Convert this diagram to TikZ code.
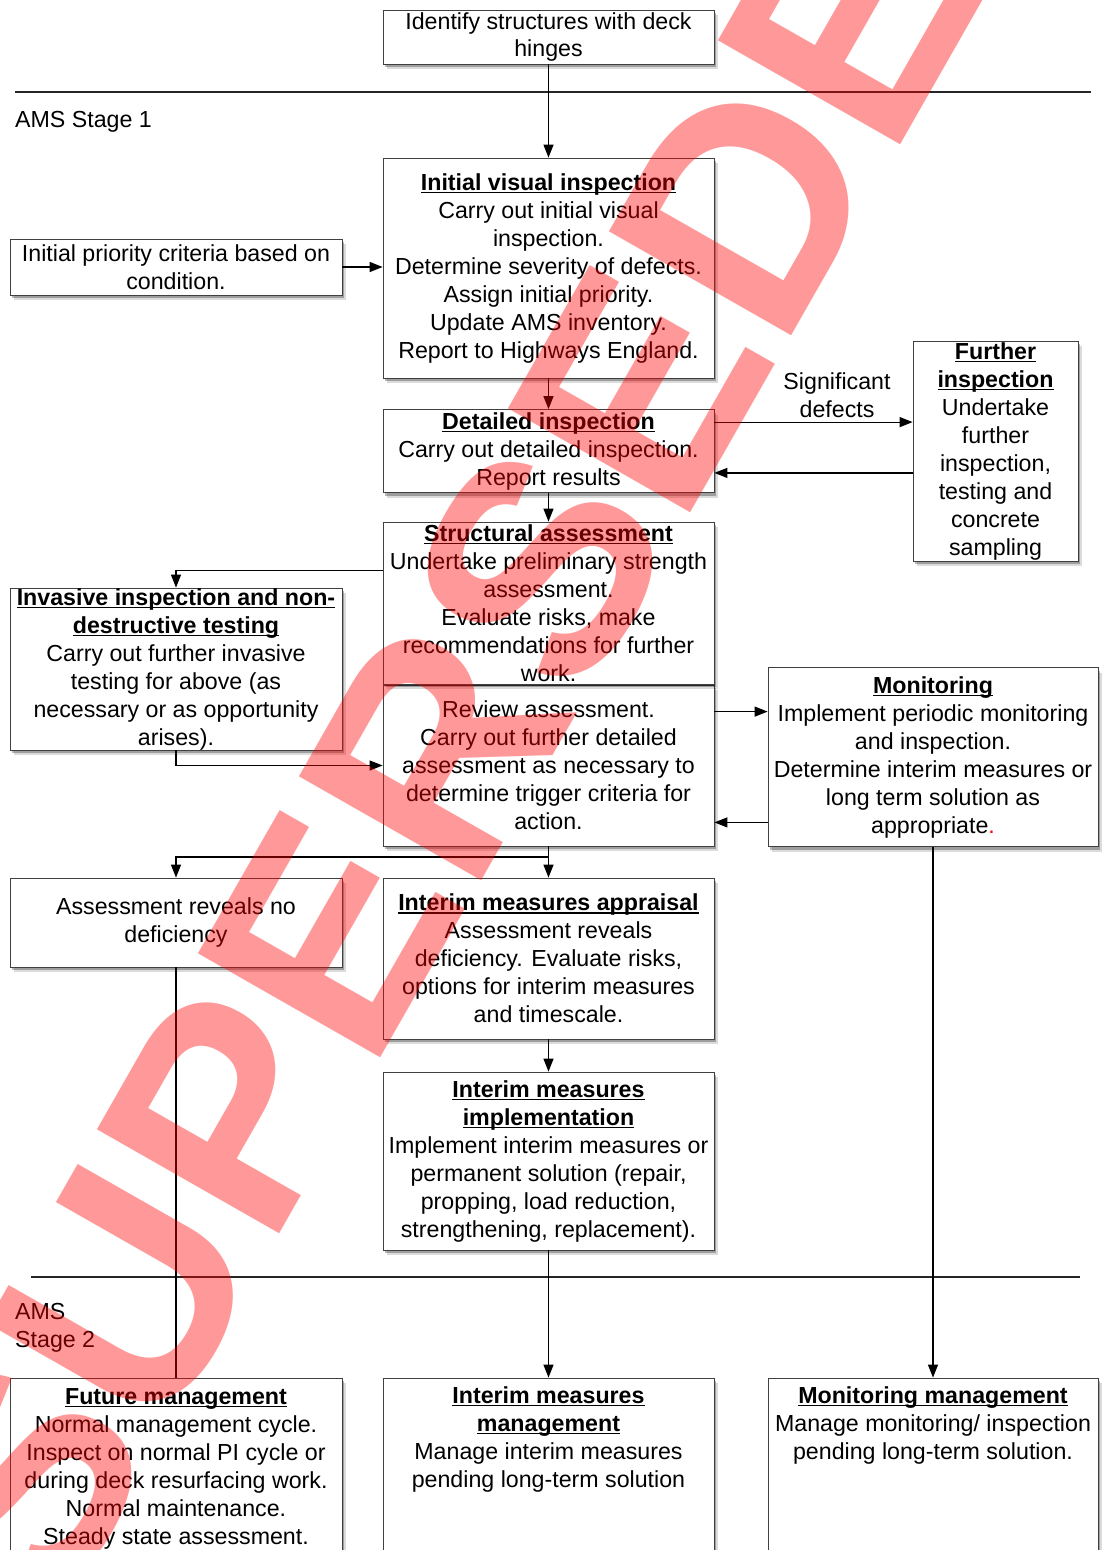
\documentclass[tikz,border=0pt]{standalone}
\usepackage{fontspec}
\setmainfont{Liberation Sans}
\usetikzlibrary{arrows.meta,shadows,calc}
% bold heading with a rule set just under the baseline
\newsavebox{\ttlbox}
\newcommand{\ttl}[1]{\sbox{\ttlbox}{\bfseries #1}\makebox[0pt][l]{\rule[-3pt]{\wd\ttlbox}{1.5pt}}\usebox{\ttlbox}}
\begin{document}
\begin{tikzpicture}[x=1pt,y=-1pt,
  every node/.style={font=\fontsize{23.2}{28}\selectfont, align=center},
  box/.style={draw=black!75, line width=0.8pt, fill=white, inner sep=1pt,
    drop shadow={shadow xshift=2pt, shadow yshift=-3pt, opacity=0.28, fill=black},
    drop shadow={shadow xshift=4pt, shadow yshift=-5pt, opacity=0.14, fill=black}},
  arr/.style={line width=1.2pt, -{Triangle[length=13pt,width=10pt]}},
  link/.style={line width=1.2pt},
  rule/.style={line width=1.3pt, draw=black!85},
  stage/.style={inner sep=0pt, align=left},
  wm/.style={rotate=60.3, text=red, text opacity=0.4, inner sep=0pt,
    font=\bfseries\fontsize{305}{305}\selectfont}]
\useasboundingbox (0,0) rectangle (1102,1550);
\clip (0,0) rectangle (1102,1550);

% stage separators
\draw[rule] (15,92) -- (1091,92);
\draw[rule] (31,1277) -- (1080,1277);
\node[stage, anchor=base west] (st1) at (15,127) {AMS Stage 1};
\node[stage, anchor=north west] (st2) at (15,1303) {AMS\\Stage 2};

% process boxes
\node[box, minimum width=331pt, minimum height=54pt] (top) at (548.5,37)
  {Identify structures with deck\\hinges};
\node[box, minimum width=331pt, minimum height=220pt] (ivi) at (548.5,268)
  {\ttl{Initial visual inspection}\\Carry out initial visual\\inspection.\\Determine severity of defects.\\Assign initial priority.\\Update AMS inventory.\\Report to Highways England.};
\node[box, minimum width=332pt, minimum height=56pt] (prio) at (176,267)
  {Initial priority criteria based on\\condition.};
\node[box, minimum width=331pt, minimum height=83pt] (det) at (548.5,451)
  {\ttl{Detailed inspection}\\Carry out detailed inspection.\\Report results};
\node[box, minimum width=165pt, minimum height=220pt, inner sep=0pt] (fur) at (995.5,451)
  {\ttl{Further}\\\ttl{inspection}\\Undertake\\further\\inspection,\\testing and\\concrete\\sampling};
\node (sig) at (837,395) {Significant\\defects};
\node[box, minimum width=331pt, minimum height=161pt] (rev) at (548.5,765.5)
  {Review assessment.\\Carry out further detailed\\assessment as necessary to\\determine trigger criteria for\\action.};
\node[box, minimum width=331pt, minimum height=162pt, inner sep=0pt] (sa) at (548.5,603)
  {\ttl{Structural assessment}\\Undertake preliminary strength\\assessment.\\Evaluate risks, make\\recommendations for further\\work.};
\node[box, minimum width=332pt, minimum height=162pt, inner sep=0pt] (inv) at (176,669)
  {\ttl{Invasive inspection and non-}\\\ttl{destructive testing}\\Carry out further invasive\\testing for above (as\\necessary or as opportunity\\arises).};
\node[box, minimum width=330pt, minimum height=179pt, inner sep=0pt] (mon) at (933,757)
  {\ttl{Monitoring}\\Implement periodic monitoring\\and inspection.\\Determine interim measures or\\long term solution as\\appropriate\textcolor{red}{.}};
\node[box, minimum width=332pt, minimum height=89pt] (nodef) at (176,922.5)
  {Assessment reveals no\\deficiency};
\node[box, minimum width=331pt, minimum height=161pt] (ima) at (548.5,958.5)
  {\ttl{Interim measures appraisal}\\Assessment reveals\\deficiency. Evaluate risks,\\options for interim measures\\and timescale.};
\node[box, minimum width=331pt, minimum height=178pt] (imi) at (548.5,1161)
  {\ttl{Interim measures}\\\ttl{implementation}\\Implement interim measures or\\permanent solution (repair,\\propping, load reduction,\\strengthening, replacement).};

% stage 2 boxes
\node[box, minimum width=332pt, minimum height=222pt] (fm) at (176,1489) {};
\node[box, minimum width=331pt, minimum height=222pt] (imm) at (548.5,1489) {};
\node[box, minimum width=330pt, minimum height=222pt] (mm) at (933,1489) {};
\node[anchor=north, inner sep=0pt] (fmt) at (176,1388)
  {\ttl{Future management}\\Normal management cycle.\\Inspect on normal PI cycle or\\during deck resurfacing work.\\Normal maintenance.\\Steady state assessment.};
\node[anchor=north, inner sep=0pt] (immt) at (548.5,1386)
  {\ttl{Interim measures}\\\ttl{management}\\Manage interim measures\\pending long-term solution};
\node[anchor=north, inner sep=0pt] (mmt) at (933,1386)
  {\ttl{Monitoring management}\\Manage monitoring/ inspection\\pending long-term solution.};

% connectors
\draw[arr] (top.south) -- (ivi.north);
\draw[arr] (prio.east) -- (prio.east -| ivi.west);
\draw[arr] (ivi.south) -- (det.north);
\path ([yshift=-13pt]det.north east) coordinate (dout);
\path ([yshift=20pt]det.south east) coordinate (din);
\draw[arr] (dout) -- (dout -| fur.west);
\draw[arr] (din -| fur.west) -- (din);
\draw[arr] (det.south) -- (sa.north);
\path ([yshift=-49pt]sa.north west) coordinate (sout);
\draw[arr] (sout) -| (inv.north);
\draw[arr] (inv.south) |- (rev.west);
\path ([yshift=-27pt]rev.north east) coordinate (rout);
\path ([yshift=24pt]rev.south east) coordinate (rin);
\draw[arr] (rout) -- (rout -| mon.west);
\draw[arr] (rin -| mon.west) -- (rin);
\coordinate (split) at (548.5,857);
\draw[link] (rev.south) -- (split);
\draw[arr] (split) -| (nodef.north);
\draw[arr] (split) -- (ima.north);
\draw[arr] (ima.south) -- (imi.north);
\draw[link] (nodef.south) -- (fm.north);
\draw[arr] (imi.south) -- (imm.north);
\draw[arr] (mon.south) -- (mm.north);

% watermark
\node[wm] (stamp) at (489,655) {SUPERSEDED};
\end{tikzpicture}
\end{document}
